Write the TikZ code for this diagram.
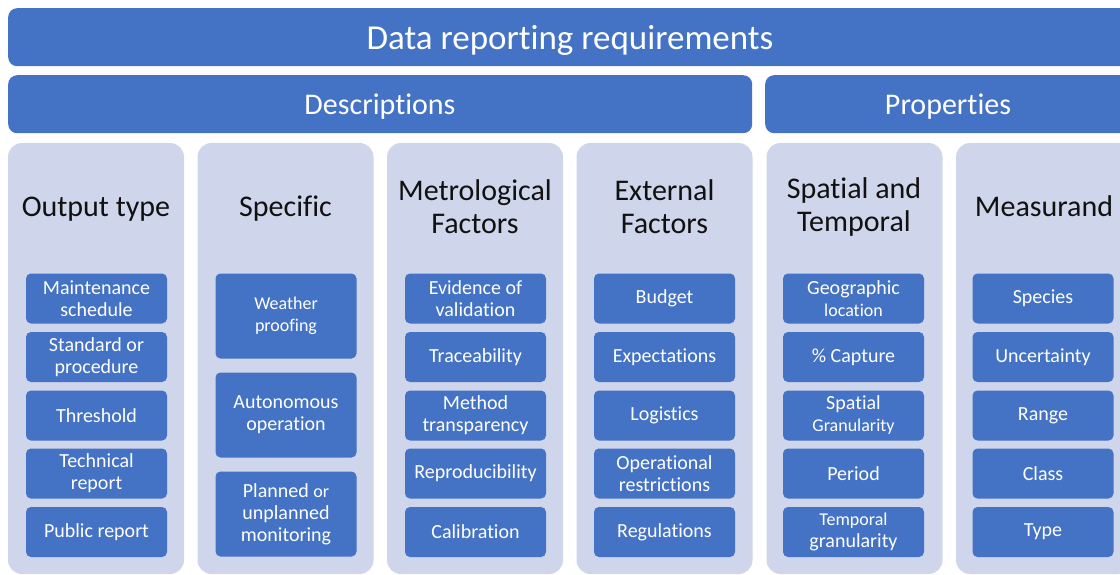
\documentclass[tikz,border=0pt]{standalone}
\usepackage{fontspec}
\setmainfont{Carlito}[Ligatures={NoCommon}]
\definecolor{mblue}{HTML}{4472C4}
\definecolor{mlight}{HTML}{CFD5EA}
\definecolor{mtext}{HTML}{111111}
\newcommand{\sm}{\fontsize{18}{22}\selectfont}
\tikzset{
  banner/.style={fill=mblue, rounded corners=9pt, text=white, inner sep=0pt, anchor=north west},
  bannertext/.style={text=white, inner sep=0pt, anchor=base},
  colbox/.style={fill=mlight, rounded corners=14pt, inner sep=0pt, minimum width=176pt, minimum height=431pt},
  head/.style={text=mtext, align=center, inner sep=0pt, font=\fontsize{30}{33}\selectfont},
  item/.style={fill=mblue, rounded corners=5pt, text=white, align=center, inner sep=0pt,
    minimum width=141pt, minimum height=50pt, font=\fontsize{20}{22}\selectfont},
  tall/.style={item, minimum height=85pt}
}
\begin{document}
\begin{tikzpicture}[x=1pt,y=-1pt]
\useasboundingbox (0,0) rectangle (1120,575);
\clip (0,0) rectangle (1120,575);
% banners
\node[banner, minimum width=1123pt, minimum height=58pt] (title) at (8,8) {};
\node[bannertext, font=\fontsize{35}{38}\selectfont] (titletext) at (570,50) {Data reporting requirements};
\node[banner, minimum width=744pt, minimum height=58pt] (desc) at (8,75) {};
\node[bannertext, font=\fontsize{30}{33}\selectfont] (desctext) at (380,115) {Descriptions};
\node[banner, minimum width=366pt, minimum height=58pt] (prop) at (765,75) {};
\node[bannertext, font=\fontsize{30}{33}\selectfont] (proptext) at (948,115) {Properties};
% columns
\node[colbox] (c1) at (96,358.5) {};
\node[colbox] (c2) at (285.5,358.5) {};
\node[colbox] (c3) at (475,358.5) {};
\node[colbox] (c4) at (664.5,358.5) {};
\node[colbox] (c5) at (854.5,358.5) {};
\node[colbox] (c6) at (1044,358.5) {};
% headers
\node[head, anchor=base] (h1) at (96,217) {Output type};
\node[head, anchor=base] (h2) at (285.5,217) {Specific};
\node[head] (h3) at (475,207) {Metrological\\Factors};
\node[head] (h4) at (664.5,207) {External\\Factors};
\node[head] (h5) at (854,207) {Spatial and\\Temporal};
\node[head, anchor=base] (h6) at (1044,217) {Measurand};
% column 1
\node[item] (i11) at (96.5,298.5) {Maintenance\\schedule};
\node[item] (i12) at (96.5,357) {Standard or\\procedure};
\node[item] (i13) at (96.5,415.5) {Threshold};
\node[item] (i14) at (96.5,473.5) {Technical\\report};
\node[item] (i15) at (96.5,532) {Public report};
% column 2
\node[tall] (i21) at (286,316) {\sm Weather\\\sm proofing};
\node[tall] (i22) at (286,415) {Autonomous\\operation};
\node[tall] (i23) at (286,514) {Planned {\sm or}\\unplanned\\monitoring};
% column 3
\node[item] (i31) at (475.5,298.5) {Evidence of\\validation};
\node[item] (i32) at (475.5,357) {Traceability};
\node[item] (i33) at (475.5,415.5) {Method\\transparency};
\node[item] (i34) at (475.5,473.5) {Reproducibility};
\node[item] (i35) at (475.5,532) {Calibration};
% column 4
\node[item] (i41) at (664.5,298.5) {Budget};
\node[item] (i42) at (664.5,357) {Expectations};
\node[item] (i43) at (664.5,415.5) {Logistics};
\node[item] (i44) at (664.5,473.5) {Operational\\restrictions};
\node[item] (i45) at (664.5,532) {Regulations};
% column 5
\node[item] (i51) at (853.5,298.5) {Geographic\\\sm location};
\node[item] (i52) at (853.5,357) {\% Capture};
\node[item] (i53) at (853.5,415.5) {Spatial\\\sm Granularity};
\node[item] (i54) at (853.5,473.5) {Period};
\node[item] (i55) at (853.5,532) {\sm Temporal\\granularity};
% column 6
\node[item] (i61) at (1043,298.5) {Species};
\node[item] (i62) at (1043,357) {Uncertainty};
\node[item] (i63) at (1043,415.5) {Range};
\node[item] (i64) at (1043,473.5) {Class};
\node[item] (i65) at (1043,532) {Type};
\end{tikzpicture}
\end{document}
